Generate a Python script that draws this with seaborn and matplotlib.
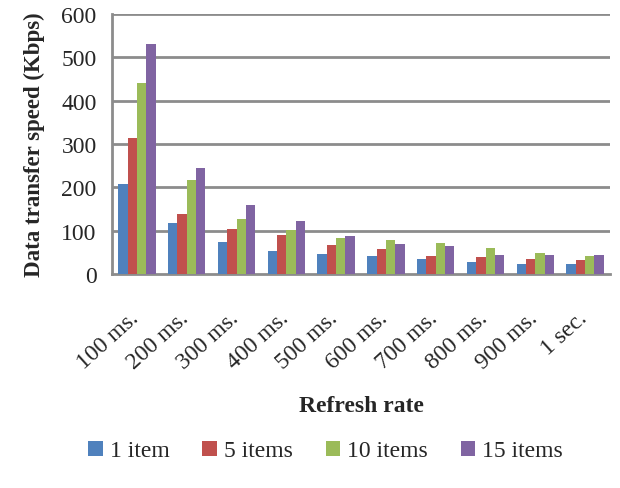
import matplotlib
matplotlib.use('Agg')
import matplotlib.pyplot as plt
import matplotlib.transforms as mtransforms
import pandas as pd
import seaborn as sns

# dane
refresh_rates = ['100 ms.', '200 ms.', '300 ms.', '400 ms.', '500 ms.',
                 '600 ms.', '700 ms.', '800 ms.', '900 ms.', '1 sec.']
series_names = ['1 item', '5 items', '10 items', '15 items']
item_1 = [207, 118, 74, 52, 46, 41, 35, 27, 23, 23]
items_5 = [314, 139, 103, 91, 68, 58, 41, 40, 34, 32]
items_10 = [441, 216, 128, 102, 83, 79, 72, 59, 48, 41]
items_15 = [530, 245, 160, 123, 87, 69, 64, 44, 44, 44]
y_ticks = [0, 100, 200, 300, 400, 500, 600]
colors = ['#4F81BD', '#C0504D', '#9BBB59', '#8064A2']

rows = []
for name, vals in zip(series_names, [item_1, items_5, items_10, items_15]):
    for rate, v in zip(refresh_rates, vals):
        rows.append({'rate': rate, 'series': name, 'speed': v})
df = pd.DataFrame(rows)

sns.set_style('white')
plt.rcParams['font.family'] = ['Liberation Serif', 'DejaVu Serif']

fig = plt.figure(figsize=(6.2, 4.89), dpi=100)
ax = fig.add_axes([112 / 620, 1 - 275 / 489, 498 / 620, 260 / 489])

sns.barplot(data=df, x='rate', y='speed', hue='series', palette=colors,
            width=0.75, ax=ax, edgecolor='none', saturation=1, legend=True,
            zorder=3)

ax.set_ylim(0, 600)
ax.set_yticks(y_ticks)
ax.set_xlim(-0.5, len(refresh_rates) - 0.5)
for t in y_ticks[1:]:
    ax.axhline(t, color='#8C8C8C', lw=2, zorder=1)

for side in ['top', 'right']:
    ax.spines[side].set_visible(False)
for side in ['left', 'bottom']:
    ax.spines[side].set_color('#8C8C8C')
    ax.spines[side].set_linewidth(2)
ax.tick_params(axis='y', length=5, width=1.5, color='#8C8C8C', labelsize=17,
               pad=6)
ax.tick_params(axis='x', length=0, labelsize=17, pad=24)
przesuniecie = mtransforms.ScaledTranslation(-0.08, 0, fig.dpi_scale_trans)
for etykieta in ax.get_xticklabels():
    etykieta.set_rotation(42)
    etykieta.set_ha('right')
    etykieta.set_rotation_mode('anchor')
    etykieta.set_transform(etykieta.get_transform() + przesuniecie)

ax.set_xlabel('Refresh rate', fontsize=17, fontweight='bold', labelpad=16)
ax.set_ylabel('Data transfer speed (Kbps)', fontsize=16.5, fontweight='bold',
              labelpad=12)

handles, labels = ax.get_legend_handles_labels()
ax.legend_.remove()
fig.legend(handles, labels, loc='center', bbox_to_anchor=(0.525, 1 - 452 / 489),
           ncol=4, frameon=False, fontsize=17, handlelength=0.6,
           handleheight=0.6, handletextpad=0.3, columnspacing=1.4)

fig.savefig('out.png', dpi=100)
